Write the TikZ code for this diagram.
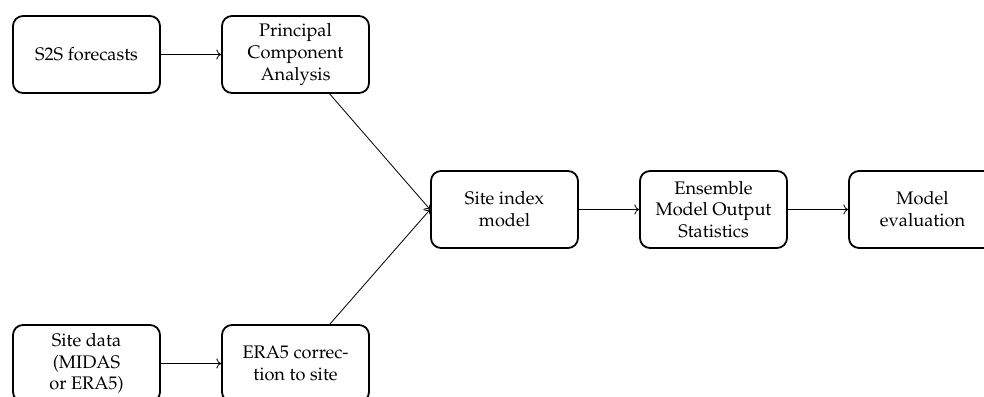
\documentclass[tikz,border=0pt]{standalone}
\usepackage[T1]{fontenc}
\usepackage{mathpazo}
\usetikzlibrary{arrows.meta}
\begin{document}
\begin{tikzpicture}[x=0.55pt,y=-0.55pt,
  procbox/.style={draw, line width=1pt, rounded corners=5.5pt, align=center,
    minimum width=80.85pt, minimum height=42.35pt, inner sep=2pt, font=\fontsize{10}{12}\selectfont},
  flow/.style={->, line width=0.45pt}]
\clip (0,0) rectangle (984,396);
\useasboundingbox (0,0) rectangle (984,396);
\node[procbox] (s2s)  at (86.5,54.5)  {S2S forecasts};
\node[procbox] (pca)  at (295.5,54.5) {Principal\\Component\\Analysis};
\node[procbox] (site) at (504.5,209.5) {Site index\\model};
\node[procbox] (emos) at (713.5,209.5) {Ensemble\\Model Output\\Statistics};
\node[procbox] (eval) at (922.5,209.5) {Model\\evaluation};
\node[procbox] (sdata) at (86.5,363.5) {Site data\\(MIDAS\\or ERA5)};
\node[procbox] (corr) at (295.5,363.5) {ERA5 correc-\\tion to site};
\draw[flow] (s2s) -- (pca);
\draw[flow] (pca) -- (site.west);
\draw[flow] (corr) -- (site.west);
\draw[flow] (site) -- (emos);
\draw[flow] (emos) -- (eval);
\draw[flow] (sdata) -- (corr);
\end{tikzpicture}
\end{document}
